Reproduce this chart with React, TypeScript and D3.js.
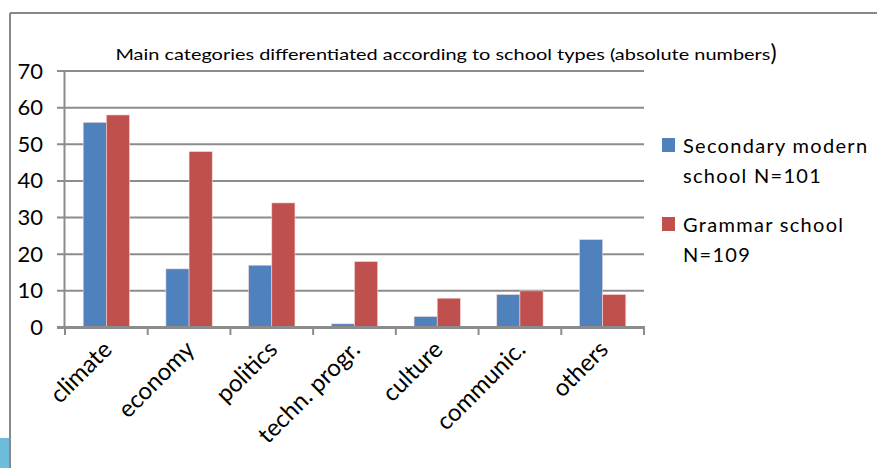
import * as d3 from 'd3'

const categories = ['climate', 'economy', 'politics', 'techn. progr.', 'culture', 'communic.', 'others']
const secondaryModern = [56, 16, 17, 1, 3, 9, 24]
const grammarSchool = [58, 48, 34, 18, 8, 10, 9]
const seriesNames = [['Secondary modern', 'school N=101'], ['Grammar school', 'N=109']]
const seriesColors = ['#4F81BD', '#C0504D']
const yTicks = [0, 10, 20, 30, 40, 50, 60, 70]

const W = 877
const H = 468
const font = 'Lato, "Open Sans", sans-serif'

const App = () => {
  const x0 = d3.scaleBand<string>().domain(categories).range([65, 644]).paddingInner(0.44).paddingOuter(0.22)
  const x1 = d3.scaleBand<number>().domain([0, 1]).range([0, x0.bandwidth()])
  const y = d3.scaleLinear().domain([0, 70]).range([327.5, 71])
  const series = [secondaryModern, grammarSchool]
  const step = x0.step()
  const edges = d3.range(categories.length + 1).map(i => 65 + i * step)

  return (
    <svg width={W} height={H} style={{ position: 'absolute', left: 0, top: 0 }}>
      <rect width={W} height={H} fill="#fff" />
      <line x1={10} x2={W} y1={13} y2={13} stroke="#888" strokeWidth={2} />
      <line x1={10} x2={10} y1={13} y2={H} stroke="#888" strokeWidth={2} />
      <rect x={0} y={438} width={9} height={30} fill="#6DBCDB" />

      <text x={446} y={60} textAnchor="middle" fontFamily={font} fontSize={16} fill="#000">
        <tspan textLength={655} lengthAdjust="spacingAndGlyphs">
          Main categories differentiated according to school types (absolute numbers
        </tspan>
        <tspan fontSize={23} dy={1}>)</tspan>
      </text>

      {yTicks.map(t => (
        <g key={t}>
          <line x1={57} x2={644} y1={y(t)} y2={y(t)} stroke="#8c8c8c" strokeWidth={t === 0 ? 3 : 2} />
          <text x={43} y={y(t) + 7.5} textAnchor="end" fontFamily={font} fontSize={22} fill="#000">
            {t}
          </text>
        </g>
      ))}
      <line x1={64.5} x2={64.5} y1={71} y2={327.5} stroke="#8c8c8c" strokeWidth={2} />

      {series.map((vals, s) =>
        vals.map((v, i) => (
          <rect
            key={`${s}-${i}`}
            x={(x0(categories[i]) ?? 0) + (x1(s) ?? 0)}
            y={y(v)}
            width={x1.bandwidth()}
            height={y(0) - y(v)}
            fill={seriesColors[s]}
            stroke="#f2d7d7"
            strokeWidth={0.6}
          />
        ))
      )}

      <line x1={57} x2={645} y1={y(0)} y2={y(0)} stroke="#8c8c8c" strokeWidth={3} />
      {edges.map((e, i) => (
        <line key={i} x1={e} x2={e} y1={y(0)} y2={335} stroke="#8c8c8c" strokeWidth={2} />
      ))}

      {categories.map(c => {
        const cx = (x0(c) ?? 0) + x0.bandwidth() / 2 + 7
        return (
          <text
            key={c}
            transform={`translate(${cx},351) rotate(-45)`}
            textAnchor="end"
            fontFamily={font}
            fontSize={24}
            fill="#000"
          >
            {c}
          </text>
        )
      })}

      {seriesNames.map((lines, s) => (
        <g key={s} transform={`translate(662,${138 + s * 79})`}>
          <rect width={13} height={14} fill={seriesColors[s]} />
          {lines.map((l, k) => (
            <text key={k} x={21} y={15 + k * 30} fontFamily={font} fontSize={20} letterSpacing={1.3} fill="#000">
              {l}
            </text>
          ))}
        </g>
      ))}
    </svg>
  )
}

export default App
